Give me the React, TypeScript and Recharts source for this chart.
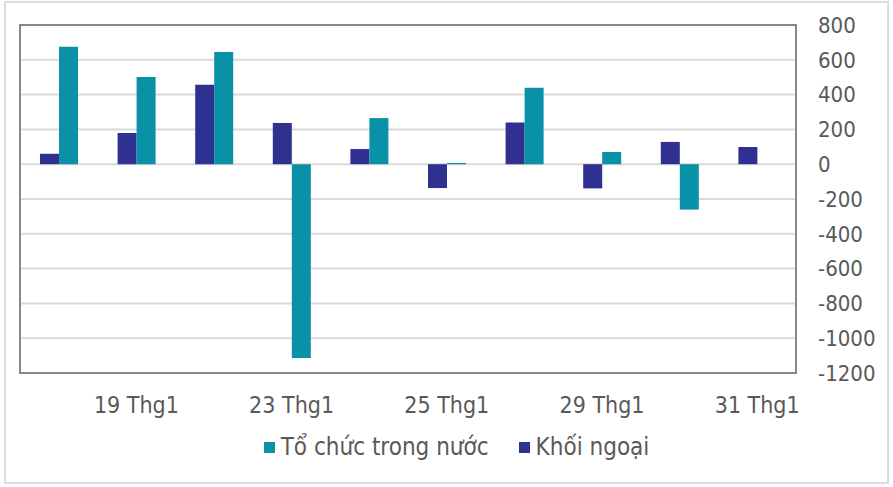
import React from 'react';
import { BarChart, Bar, XAxis, YAxis, CartesianGrid } from 'recharts';

const categories = ["18 Thg1", "19 Thg1", "22 Thg1", "23 Thg1", "24 Thg1", "25 Thg1", "26 Thg1", "29 Thg1", "30 Thg1", "31 Thg1"];
const khoiNgoai = [60, 179, 457, 237, 87, -137, 240, -139, 128, 99];
const toChucTrongNuoc = [675, 501, 645, -1114, 265, 7, 440, 70, -261, 0];
const yTicks = [-1200, -1000, -800, -600, -400, -200, 0, 200, 400, 600, 800];

const SERIES_TC = "Tổ chức trong nước";
const SERIES_KN = "Khối ngoại";
const COLOR_TC = "#0891A7";
const COLOR_KN = "#2E3190";
const FONT = "Tahoma, 'DejaVu Sans Condensed', 'Liberation Sans', sans-serif";

const data = categories.map((c, i) => ({ date: c, kn: khoiNgoai[i], tc: toChucTrongNuoc[i] }));

const LegendBlock = () => (
  <div style={{ position: 'absolute', left: 10, width: 893, top: 432, display: 'flex', justifyContent: 'center', alignItems: 'center', fontFamily: FONT, fontSize: 24, color: '#595959', lineHeight: '30px' }}>
    {[{ name: SERIES_TC, color: COLOR_TC }, { name: SERIES_KN, color: COLOR_KN }].map((it, i) => (
      <div key={i} style={{ display: 'flex', alignItems: 'center', marginLeft: i === 0 ? 0 : 30 }}>
        <div style={{ width: 11, height: 11, background: it.color, marginRight: 6 }} />
        <span>{it.name}</span>
      </div>
    ))}
  </div>
);

export default function App() {
  return (
    <div style={{ position: 'absolute', left: 0, top: 0, width: 893, height: 487, background: '#fff' }}>
      <div style={{ position: 'absolute', left: 4, top: 1, width: 885, height: 483, border: '2px solid #dcdcdc', boxSizing: 'border-box' }} />
      <div style={{ position: 'absolute', left: 0, top: 0 }}>
        <BarChart width={893} height={487} data={data} margin={{ top: 25, right: 17, left: 20, bottom: 74 }} barGap={0} barSize={19}>
          <CartesianGrid horizontal={true} vertical={false} stroke="#d9d9d9" strokeWidth={2} />
          <XAxis
            dataKey="date"
            interval={0}
            tickLine={false}
            tickSize={0}
            tickMargin={24}
            height={40}
            axisLine={{ stroke: '#888888', strokeWidth: 2 }}
            tick={{ fill: '#595959', fontSize: 23, fontFamily: FONT }}
            tickFormatter={(v: string, i: number) => (i % 2 === 1 ? v : '')}
          />
          <YAxis
            orientation="right"
            domain={[-1200, 800]}
            ticks={yTicks}
            interval={0}
            width={80}
            tickLine={false}
            tickSize={0}
            tickMargin={22}
            axisLine={{ stroke: '#888888', strokeWidth: 2 }}
            tick={{ fill: '#595959', fontSize: 22, fontFamily: FONT, textAnchor: 'start' }}
          />
          <Bar dataKey="kn" name={SERIES_KN} fill={COLOR_KN} isAnimationActive={false} />
          <Bar dataKey="tc" name={SERIES_TC} fill={COLOR_TC} isAnimationActive={false} />
        </BarChart>
      </div>
      <div style={{ position: 'absolute', left: 19, top: 24, width: 778, height: 350, border: '2px solid #888888', boxSizing: 'border-box', pointerEvents: 'none' }} />
      <LegendBlock />
    </div>
  );
}
